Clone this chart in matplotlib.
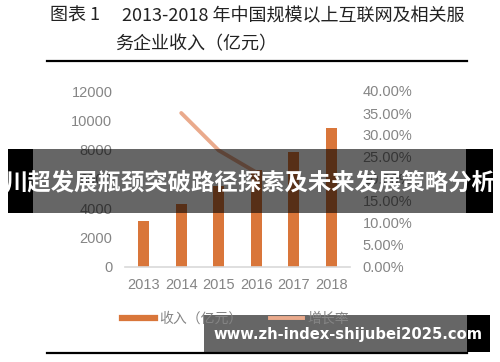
import matplotlib
matplotlib.use("Agg")
import matplotlib.pyplot as plt
from matplotlib.lines import Line2D
from matplotlib.patches import Rectangle
import numpy as np

plt.rcParams['font.family'] = ['Liberation Sans', 'Noto Sans CJK SC', 'DejaVu Sans']

# data
years = ['2013', '2014', '2015', '2016', '2017', '2018']
revenue = [3150, 4300, 5500, 6600, 7850, 9500]          # 收入（亿元）
growth = [np.nan, 0.35, 0.265, 0.215, np.nan, np.nan]   # 增长率 (only 2014-2016 visible)
left_ticks = [0, 2000, 4000, 6000, 8000, 10000, 12000]
right_ticks = [0, 0.05, 0.10, 0.15, 0.20, 0.25, 0.30, 0.35, 0.40]

bar_color = '#D9763A'
line_color = '#EAAA8C'
tick_color = '#858585'

W, H = 500, 362
fig = plt.figure(figsize=(W / 100, H / 100), dpi=100)


def fx(x):
    return x / W


def fy(y):
    return 1 - y / H


ax = fig.add_axes([fx(125), fy(267), fx(350) - fx(125), fy(91) - fy(267)])
x = np.arange(len(years))
ax.bar(x, revenue, width=0.3, color=bar_color, zorder=2)
ax.set_xlim(-0.5, len(years) - 0.5)
ax.set_ylim(0, 12000)
ax.set_xticks(x)
ax.set_xticklabels(years)
ax.set_yticks(left_ticks)
ax.set_yticklabels([str(v) for v in left_ticks])
for s in ['top', 'right', 'left']:
    ax.spines[s].set_visible(False)
ax.spines['bottom'].set_color('#d9d9d9')
ax.spines['bottom'].set_linewidth(1.2)
ax.tick_params(axis='both', length=0, colors=tick_color, labelsize=10.5)
ax.tick_params(axis='y', pad=9)
ax.tick_params(axis='x', pad=8)

ax2 = ax.twinx()
ax2.plot(x, growth, color=line_color, lw=2.8, solid_capstyle='round', zorder=3)
ax2.set_ylim(0, 0.4)
ax2.set_yticks(right_ticks)
ax2.set_yticklabels([f'{v * 100:.2f}%' for v in right_ticks])
for s in ax2.spines.values():
    s.set_visible(False)
ax2.tick_params(axis='y', length=0, colors=tick_color, labelsize=10.5, pad=9)

# legend
handles = [Line2D([], [], color=bar_color, lw=4.5),
           Line2D([], [], color=line_color, lw=2.8)]
fig.legend(handles, ['收入（亿元）', '增长率'], loc='center left',
           bbox_to_anchor=(fx(116), fy(319)), ncol=2, frameon=False,
           fontsize=10, labelcolor=tick_color, handlelength=2.4,
           handletextpad=0.3, columnspacing=2.0, borderaxespad=0)

# title block
title_kw = dict(fontsize=13, color='#222222', family=['Noto Sans CJK SC'], va='center')
fig.text(fx(50), fy(16), '图表 1', **title_kw)
fig.text(fx(122), fy(16), '2013-2018 年中国规模以上互联网及相关服', **title_kw)
fig.text(fx(115), fy(44), '务企业收入（亿元）', **title_kw)
fig.add_artist(Line2D([fx(47), fx(467)], [fy(61), fy(61)], color='black', lw=1.6))
fig.add_artist(Line2D([fx(47), fx(467)], [fy(353), fy(353)], color='black', lw=1.6))

# overlay banner across the middle
fig.add_artist(Rectangle((fx(33), fy(213)), fx(466) - fx(33), fy(149) - fy(213),
                         color='black', alpha=0.6, lw=0, zorder=5))
fig.add_artist(Rectangle((fx(8), fy(213)), fx(33) - fx(8), fy(149) - fy(213),
                         color='black', lw=0, zorder=5))
fig.add_artist(Rectangle((fx(466), fy(213)), fx(493) - fx(466), fy(149) - fy(213),
                         color='black', lw=0, zorder=5))
fig.text(fx(250), fy(182), '川超发展瓶颈突破路径探索及未来发展策略分析',
         ha='center', va='center', color='white', fontsize=16.8, weight='bold',
         family=['Noto Sans CJK SC'], zorder=6)

# watermark bar at the bottom
fig.add_artist(Rectangle((fx(204), fy(352)), fx(467) - fx(204), fy(315) - fy(352),
                         color='black', alpha=0.6, lw=0, zorder=5))
fig.add_artist(Rectangle((fx(467), fy(352)), fx(490) - fx(467), fy(315) - fy(352),
                         color='black', lw=0, zorder=5))
fig.text(fx(213), fy(335), 'www.zh-index-shijubei2025.com', ha='left', va='center',
         color='white', fontsize=10.6, weight='bold', family=['DejaVu Sans'], zorder=6)

fig.savefig('out.png', dpi=100)
